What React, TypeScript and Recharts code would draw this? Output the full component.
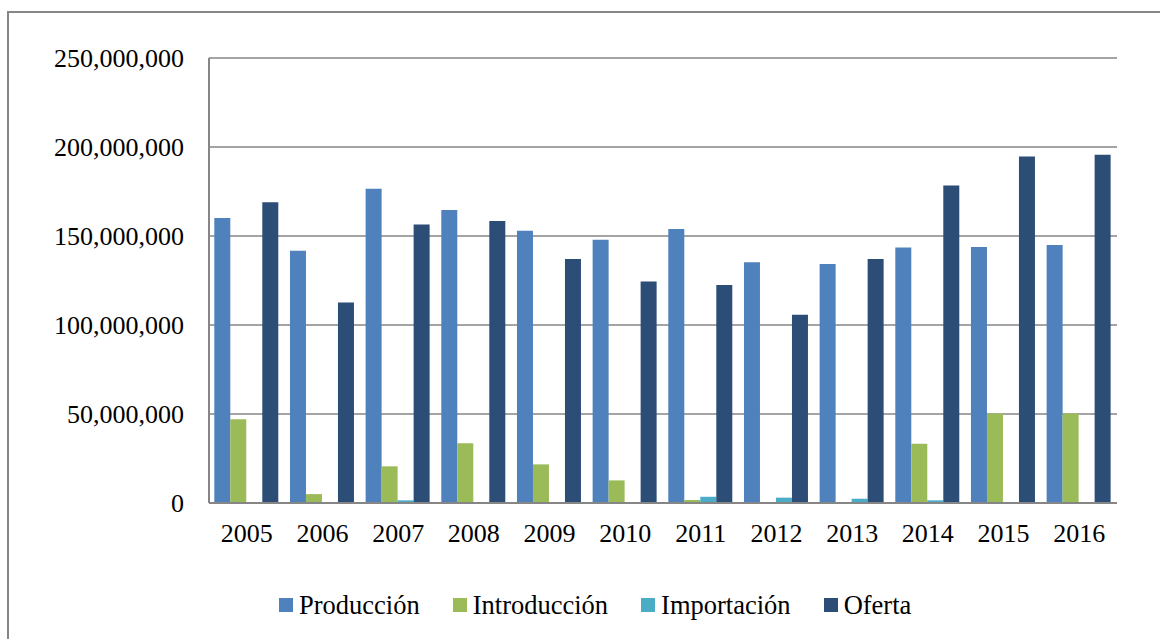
import React from 'react';
import { BarChart, Bar, XAxis, YAxis, CartesianGrid } from 'recharts';

const years = ['2005', '2006', '2007', '2008', '2009', '2010', '2011', '2012', '2013', '2014', '2015', '2016'];
const produccion = [160.1, 141.7, 176.6, 164.6, 153.0, 147.9, 153.9, 135.2, 134.3, 143.6, 143.8, 144.9];
const introduccion = [47.0, 5.0, 20.6, 33.5, 21.7, 12.7, 1.7, 0, 0, 33.3, 50.3, 50.3];
const importacion = [0, 0, 1.5, 0, 0, 0, 3.5, 3.0, 2.4, 1.5, 0, 0];
const oferta = [168.9, 112.7, 156.5, 158.4, 137.1, 124.5, 122.5, 105.8, 137.1, 178.4, 194.6, 195.7];
const yTicks = [0, 50000000, 100000000, 150000000, 200000000, 250000000];

const M = 1000000;
const data = years.map((year, i) => ({
  year,
  produccion: produccion[i] * M,
  introduccion: introduccion[i] * M,
  importacion: importacion[i] * M,
  oferta: oferta[i] * M,
}));

const series = [
  { key: 'produccion', name: 'Producción', color: '#4F81BD' },
  { key: 'introduccion', name: 'Introducción', color: '#9BBB59' },
  { key: 'importacion', name: 'Importación', color: '#4BACC6' },
  { key: 'oferta', name: 'Oferta', color: '#2C4D75' },
];

const font = "'Liberation Serif', 'Times New Roman', serif";
const grey = '#868686';

const App: React.FC = () => {
  return (
    <div style={{ position: 'absolute', left: 0, top: 0, width: 1160, height: 639, overflow: 'hidden', background: '#fff', fontFamily: font }}>
      <div style={{ position: 'absolute', left: 7, top: 11, width: 1180, height: 660, border: `2px solid ${grey}` }} />
      <div style={{ position: 'absolute', left: 0, top: 0 }}>
        <BarChart
          width={1160}
          height={639}
          data={data}
          margin={{ top: 58, right: 43, left: 0, bottom: 106 }}
          barCategoryGap="7%"
          barGap={0}
        >
          <CartesianGrid vertical={false} stroke={grey} strokeWidth={1.5} />
          <XAxis
            dataKey="year"
            height={30}
            tickLine={false}
            axisLine={{ stroke: grey, strokeWidth: 2 }}
            tickMargin={15}
            tick={{ fill: '#000', fontSize: 26, fontFamily: font }}
          />
          <YAxis
            width={209}
            domain={[0, 250000000]}
            ticks={yTicks}
            tickLine={false}
            axisLine={{ stroke: grey, strokeWidth: 2 }}
            tickMargin={19}
            tick={{ fill: '#000', fontSize: 26, fontFamily: font }}
            tickFormatter={(v: number) => v.toLocaleString('en-US')}
          />
          {series.map((s) => (
            <Bar key={s.key} dataKey={s.key} name={s.name} fill={s.color} isAnimationActive={false} />
          ))}
        </BarChart>
      </div>
      <div style={{ position: 'absolute', left: 279, top: 591, display: 'flex', alignItems: 'center', gap: 33, fontSize: 26.5, lineHeight: '28px', color: '#000' }}>
        {series.map((s) => (
          <div key={s.key} style={{ display: 'flex', alignItems: 'center' }}>
            <span style={{ display: 'inline-block', width: 14, height: 14, background: s.color, marginRight: 6 }} />
            <span>{s.name}</span>
          </div>
        ))}
      </div>
    </div>
  );
};

export default App;
